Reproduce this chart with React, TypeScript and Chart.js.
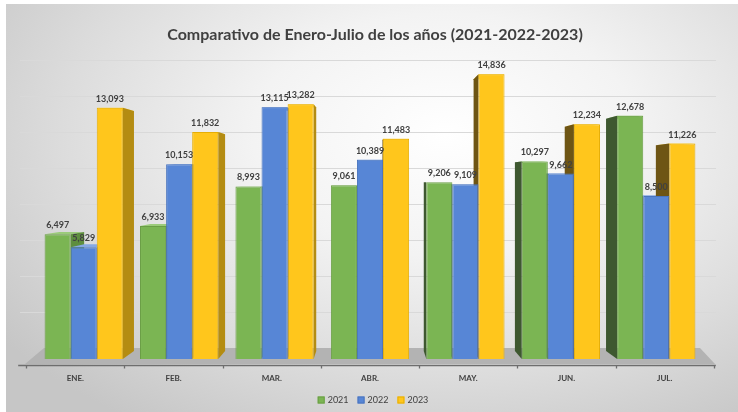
import React, { useEffect, useRef } from "react";
import { Chart, registerables } from "chart.js";

Chart.register(...registerables);

const categories = ["ENE.", "FEB.", "MAR.", "ABR.", "MAY.", "JUN.", "JUL."];
const seriesNames = ["2021", "2022", "2023"];
const values2021 = [6497, 6933, 8993, 9061, 9206, 10297, 12678];
const values2022 = [5829, 10153, 13115, 10389, 9109, 9662, 8500];
const values2023 = [13093, 11832, 13282, 11483, 14836, 12234, 11226];
const yMin = 0;
const yMax = 16000;
const yStep = 2000;
const titleText = "Comparativo de Enero-Julio de los años (2021-2022-2023)";

const frontColors = ["#7BB553", "#5786D6", "#FFC61C"];
const borderColors = ["#6A9E45", "#4A74BE", "#E6AE05"];
const rightFaceColors = ["#5E8E3E", "#3E66AA", "#B48C12"];
const leftFaceColors = ["#3E5830", "#2E4A7E", "#6E5514"];
const topFaceColors = ["#9BCB7A", "#86A8E4", "#FFDD6A"];

const FONT = "Lato, 'Open Sans', 'DejaVu Sans', sans-serif";

const K_BAR = 0.045;
const K_WALL = 0.062;
const V_FRAC = 0.42;
const AXIS_SPREAD = 1.0294;

const fmt = (v: number) => v.toLocaleString("en-US");

const threeDPlugin = {
  id: "threeD",
  beforeDatasetsDraw(chart: any) {
    const { ctx, chartArea: a, scales } = chart;
    const yS = scales.y;
    const vc = (a.left + a.right) / 2;
    const vy = a.top + (a.bottom - a.top) * V_FRAC;
    ctx.save();
    // back wall gridlines
    ctx.strokeStyle = "#D9D9D9";
    ctx.lineWidth = 1;
    for (let v = yMin + yStep; v <= yMax; v += yStep) {
      const y = yS.getPixelForValue(v);
      const yw = Math.round(y + (vy - y) * K_WALL) + 0.5;
      ctx.beginPath();
      ctx.moveTo(a.left - 16, yw);
      ctx.lineTo(a.right + 12, yw);
      ctx.stroke();
    }
    // floor
    const y0 = yS.getPixelForValue(0);
    const wallBase = y0 + (vy - y0) * K_WALL;
    ctx.fillStyle = "#B3B3B3";
    ctx.beginPath();
    ctx.moveTo(a.left - 11, y0 + 5);
    ctx.lineTo(a.right + 11, y0 + 5);
    ctx.lineTo(a.right - 4, wallBase);
    ctx.lineTo(a.left + 8, wallBase);
    ctx.closePath();
    ctx.fill();

    // extruded faces
    chart.data.datasets.forEach((ds: any, di: number) => {
      const meta = chart.getDatasetMeta(di);
      meta.data.forEach((bar: any) => {
        const p = bar.getProps(["x", "y", "base", "width"], true);
        const xl = p.x - p.width / 2;
        const xr = p.x + p.width / 2;
        const yt = p.y;
        const yb = p.base;
        const bp = (x: number, y: number) => [x + (vc - x) * K_BAR, y + (vy - y) * K_BAR];
        // top face
        if (yt > vy) {
          const [a1, b1] = bp(xl, yt);
          const [a2, b2] = bp(xr, yt);
          ctx.fillStyle = topFaceColors[di];
          ctx.beginPath();
          ctx.moveTo(xl, yt);
          ctx.lineTo(xr, yt);
          ctx.lineTo(a2, b2);
          ctx.lineTo(a1, b1);
          ctx.closePath();
          ctx.fill();
        } else {
          const [a1, b1] = bp(xl, yt);
          const [a2, b2] = bp(xr, yt);
          ctx.fillStyle = topFaceColors[di];
          ctx.beginPath();
          ctx.moveTo(xl, yt);
          ctx.lineTo(xr, yt);
          ctx.lineTo(a2, b2);
          ctx.lineTo(a1, b1);
          ctx.closePath();
          ctx.fill();
        }
        let ex = 0;
        let col = "";
        if (p.x < vc - 2) {
          ex = xr;
          col = rightFaceColors[di];
        } else if (p.x > vc + 2) {
          ex = xl;
          col = leftFaceColors[di];
        } else return;
        const [tx, ty] = bp(ex, yt);
        const [bx, by] = bp(ex, yb);
        ctx.fillStyle = col;
        ctx.beginPath();
        ctx.moveTo(ex, yt);
        ctx.lineTo(tx, ty);
        ctx.lineTo(bx, by);
        ctx.lineTo(ex, yb);
        ctx.closePath();
        ctx.fill();
      });
    });
    ctx.restore();
  },
  afterDatasetsDraw(chart: any) {
    const { ctx, chartArea: a, scales } = chart;
    const xS = scales.x;
    const yS = scales.y;
    const mid = (a.left + a.right) / 2;
    const spread = (x: number) => mid + (x - mid) * AXIS_SPREAD;
    ctx.save();
    // data labels
    ctx.fillStyle = "#404040";
    ctx.font = `bold 9px ${FONT}`;
    ctx.textAlign = "center";
    ctx.textBaseline = "middle";
    chart.data.datasets.forEach((ds: any, di: number) => {
      const meta = chart.getDatasetMeta(di);
      meta.data.forEach((bar: any, i: number) => {
        const p = bar.getProps(["x", "y"], true);
        ctx.fillText(fmt(ds.data[i]), p.x, p.y - 9);
      });
    });
    // x axis
    const y0 = yS.getPixelForValue(0);
    const axisY = Math.round(y0 + 6) + 0.5;
    const w = (a.right - a.left) / categories.length;
    ctx.strokeStyle = "#6E6E6E";
    ctx.lineWidth = 1.3;
    ctx.beginPath();
    ctx.moveTo(spread(a.left) - 8, axisY);
    ctx.lineTo(spread(a.right) + 2, axisY);
    ctx.stroke();
    for (let k = 0; k <= categories.length; k++) {
      const bx = Math.round(spread(a.left + w * k)) + 0.5;
      ctx.beginPath();
      ctx.moveTo(bx, axisY);
      ctx.lineTo(bx, axisY + 3);
      ctx.stroke();
    }
    ctx.font = `bold 8px ${FONT}`;
    ctx.fillStyle = "#404040";
    categories.forEach((c, i) => {
      ctx.fillText(c, spread(xS.getPixelForValue(i)), axisY + 13);
    });
    // legend
    ctx.font = `9px ${FONT}`;
    ctx.textAlign = "left";
    const box = 7;
    const gapBox = 3;
    const gapItem = 9;
    const widths = seriesNames.map((n) => box + gapBox + ctx.measureText(n).width);
    const total = widths.reduce((s, v) => s + v, 0) + gapItem * (seriesNames.length - 1);
    let lx = mid + 3 - total / 2;
    const ly = 400;
    seriesNames.forEach((n, i) => {
      ctx.fillStyle = frontColors[i];
      ctx.fillRect(lx, ly - box / 2, box, box);
      ctx.strokeStyle = borderColors[i];
      ctx.lineWidth = 1;
      ctx.strokeRect(lx + 0.5, ly - box / 2 + 0.5, box - 1, box - 1);
      ctx.fillStyle = "#404040";
      ctx.fillText(n, lx + box + gapBox, ly + 0.5);
      lx += widths[i] + gapItem;
    });
    // title
    ctx.textAlign = "center";
    ctx.font = `bold 16px ${FONT}`;
    ctx.fillStyle = "#404040";
    ctx.fillText(titleText, mid + 5, 35);
    ctx.restore();
  },
};

export default function App() {
  const ref = useRef<HTMLCanvasElement | null>(null);
  useEffect(() => {
    document.body.style.margin = "0";
    const canvas = ref.current;
    if (!canvas) return;
    const allValues = [values2021, values2022, values2023];
    const chart = new Chart(canvas, {
      type: "bar",
      data: {
        labels: categories,
        datasets: seriesNames.map((n, i) => ({
          label: n,
          data: allValues[i],
          backgroundColor: frontColors[i],
          borderColor: borderColors[i],
          borderWidth: 1,
          barPercentage: 1,
          categoryPercentage: 0.82,
        })),
      },
      options: {
        animation: false,
        responsive: false,
        maintainAspectRatio: false,
        devicePixelRatio: 1,
        layout: { padding: { left: 36, right: 34, top: 52, bottom: 53 } },
        plugins: {
          legend: { display: false },
          title: { display: false },
          tooltip: { enabled: false },
        },
        scales: {
          x: { display: false, offset: true },
          y: { display: false, min: yMin, max: yMax },
        },
      },
      plugins: [threeDPlugin],
    });
    return () => chart.destroy();
  }, []);

  return (
    <div style={{ position: "fixed", left: 0, top: 0, width: 738, height: 412, background: "#ffffff", overflow: "hidden" }}>
      <div
        style={{
          position: "absolute",
          left: 6,
          top: 4,
          width: 732,
          height: 408,
          background:
            "radial-gradient(ellipse 75% 85% at 60% 32%, #ffffff 0%, #f3f3f3 35%, #dcdcdc 70%, #c6c6c6 100%)",
        }}
      />
      <canvas ref={ref} width={738} height={412} style={{ position: "absolute", left: 0, top: 0, width: 738, height: 412 }} />
    </div>
  );
}
